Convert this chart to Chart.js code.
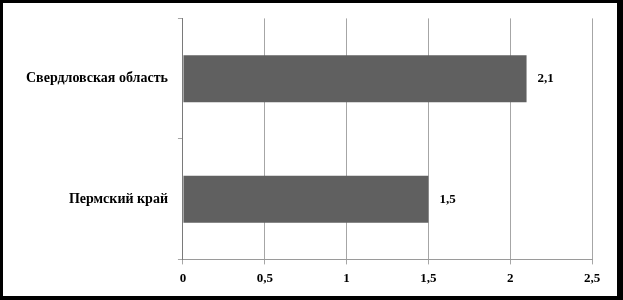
<!DOCTYPE html>
<html>
<head>
<meta charset="utf-8">
<script src="https://cdn.jsdelivr.net/npm/chart.js@4"></script>
<style>
  html, body { margin: 0; padding: 0; background: #fff; }
  #wrap { position: relative; width: 623px; height: 300px; }
  #frame {
    position: absolute; left: 0; top: 0; width: 623px; height: 300px;
    box-sizing: border-box; pointer-events: none;
    border-left: 3px solid #000; border-top: 3px solid #000;
    border-right: 6px solid #000; border-bottom: 4px solid #000;
  }
  canvas { position: absolute; left: 0; top: 0; }
</style>
</head>
<body>
<div id="wrap">
  <canvas id="chart" width="623" height="300"></canvas>
  <div id="frame"></div>
</div>
<script>
// данные
const regions = ["Свердловская область", "Пермский край"];
const values = [2.1, 1.5];

const fmt = v => String(v).replace(".", ",");

/* подписи значений справа от полос */
const barLabels = {
  id: "barLabels",
  afterDatasetsDraw(chart) {
    const ctx = chart.ctx;
    const meta = chart.getDatasetMeta(0);
    ctx.save();
    ctx.font = "bold 13px 'Liberation Serif'";
    ctx.fillStyle = "#000";
    ctx.textBaseline = "middle";
    ctx.textAlign = "left";
    meta.data.forEach((bar, i) => {
      ctx.fillText(fmt(values[i]), bar.x + 11, bar.y);
    });
    ctx.restore();
  }
};

const chart = new Chart(document.getElementById("chart"), {
  type: "bar",
  data: {
    labels: regions,
    datasets: [{
      data: values,
      backgroundColor: "#606060",
      borderWidth: 0,
      barPercentage: 0.39,
      categoryPercentage: 1
    }]
  },
  options: {
    indexAxis: "y",
    responsive: false,
    animation: false,
    layout: { padding: { left: 16, right: 31, top: 17, bottom: 8 } },
    plugins: { legend: { display: false }, tooltip: { enabled: false } },
    scales: {
      x: {
        min: 0,
        max: 2.5,
        ticks: {
          stepSize: 0.5,
          color: "#000",
          padding: 6,
          font: { family: "Liberation Serif", size: 13, weight: "bold" },
          callback: v => fmt(v)
        },
        grid: { color: "#a6a6a6", tickLength: 5 },
        border: { color: "#9a9a9a" }
      },
      y: {
        ticks: {
          color: "#000",
          padding: 10,
          font: { family: "Liberation Serif", size: 14, weight: "bold" }
        },
        grid: { drawOnChartArea: false, offset: true, color: "#a6a6a6", tickLength: 5 },
        border: { color: "#7a7a7a" }
      }
    }
  },
  plugins: [barLabels]
});
</script>
</body>
</html>
